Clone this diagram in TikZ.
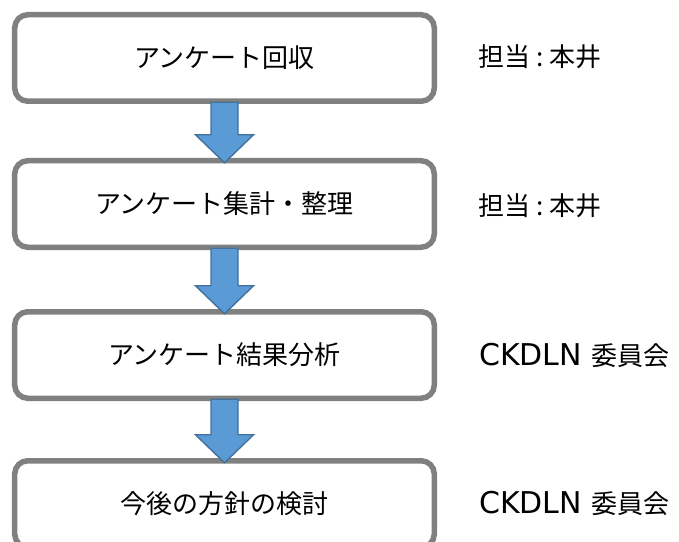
\documentclass[tikz,border=0pt]{standalone}
\usepackage{fontspec}
\setmainfont{Noto Sans CJK JP}
\newfontfamily\latinwide{DejaVu Sans}
\usetikzlibrary{calc}
\definecolor{boxgray}{HTML}{808080}
\definecolor{arrowfill}{HTML}{5B9BD5}
\definecolor{arrowline}{HTML}{41719C}
\newcommand{\ckdln}{{\latinwide\fontsize{30bp}{34bp}\selectfont CKDLN}\hspace{9bp}委員会}
\newcommand{\tantou}{担当\hspace{6bp}:\hspace{6bp}本井}
\begin{document}
\begin{tikzpicture}[x=1bp,y=-1bp,
  stepbox/.style={draw=boxgray, line width=5.5bp, rounded corners=13bp, fill=white,
    minimum width=419.5bp, minimum height=86.5bp, outer sep=0pt, inner sep=0pt,
    font=\fontsize{26bp}{30bp}\selectfont},
  rolelabel/.style={anchor=west, inner sep=0pt, font=\fontsize{26bp}{30bp}\selectfont},
  blockarrow/.style={fill=arrowfill, draw=arrowline, line width=1.4bp, line join=miter}]
\useasboundingbox (0,0) rectangle (679,542);
\node[stepbox] (b1) at (224.5,58) {アンケート回収};
\node[stepbox] (b2) at (224.5,204) {アンケート集計・整理};
\node[stepbox] (b3) at (224.5,355) {アンケート結果分析};
\node[stepbox] (b4) at (224.5,504) {今後の方針の検討};
\node[rolelabel] (r1) at (478,57) {\tantou};
\node[rolelabel] (r2) at (478,206) {\tantou};
\node[rolelabel] (r3) at (479,355) {\ckdln};
\node[rolelabel] (r4) at (479,503) {\ckdln};
\foreach \a/\b in {b1/b2,b2/b3,b3/b4}{
  \draw[blockarrow] ($(\a.south)+(-13.5,1)$) -- ($(\a.south)+(13.5,1)$)
    -- ($(\b.north)+(13.5,-26)$) -- ($(\b.north)+(29,-26)$)
    -- ($(\b.north)+(0,2)$) -- ($(\b.north)+(-29,-26)$)
    -- ($(\b.north)+(-13.5,-26)$) -- cycle;
}
\end{tikzpicture}
\end{document}
